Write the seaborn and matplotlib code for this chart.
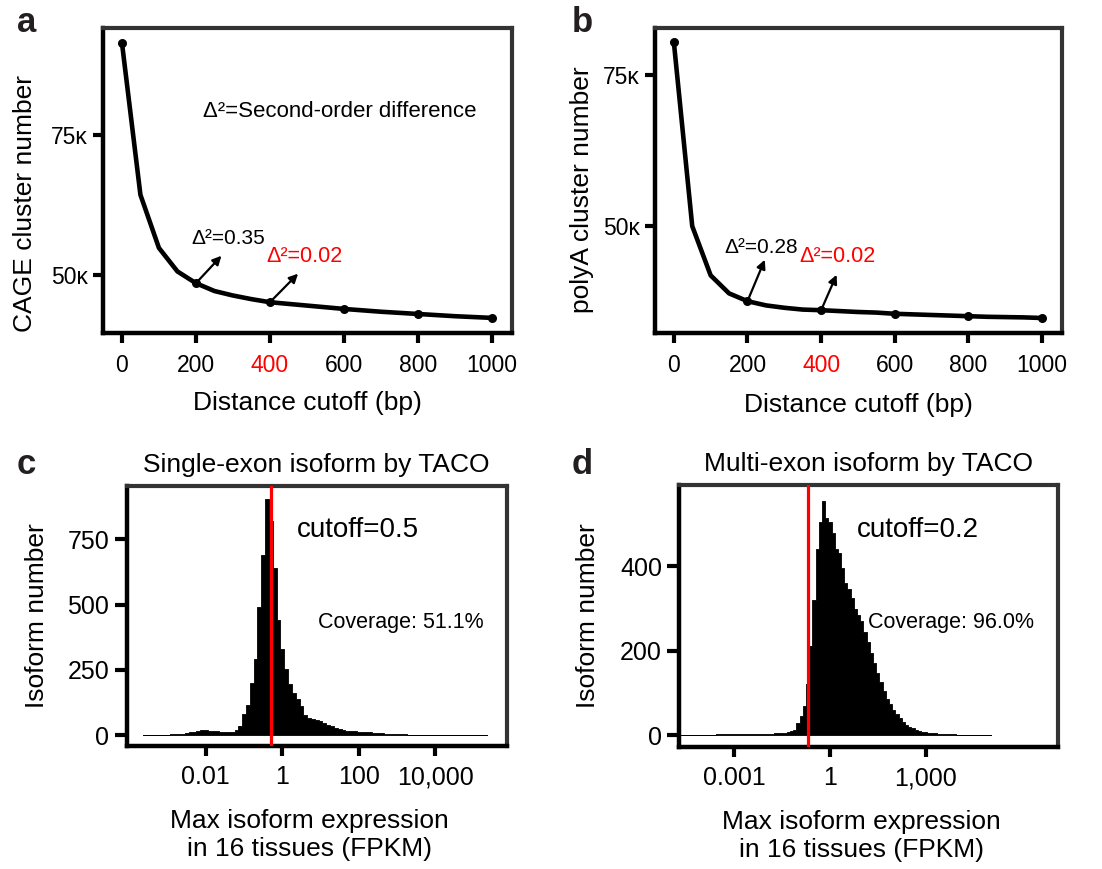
import numpy as np
import pandas as pd
import seaborn as sns
import matplotlib.pyplot as plt
from matplotlib.ticker import NullLocator

# ---- panels a / b : cluster number (thousands) vs distance cutoff ----
distance_bp = [0, 50, 100, 150, 200, 250, 300, 350, 400, 450, 500,
               550, 600, 650, 700, 750, 800, 850, 900, 950, 1000]
cage_k = [91.5, 64.3, 54.8, 50.6, 48.5, 47.1, 46.3, 45.65, 45.1, 44.8, 44.5,
          44.2, 43.9, 43.65, 43.4, 43.2, 43.0, 42.8, 42.6, 42.45, 42.3]
polya_k = [80.6, 49.9, 41.7, 38.7, 37.4, 36.7, 36.3, 36.0, 35.9, 35.75, 35.6,
           35.5, 35.3, 35.2, 35.1, 35.0, 34.9, 34.8, 34.75, 34.7, 34.6]

# ---- panels c / d : histogram heights, 0.1-decade bins of log10(FPKM) ----
single_first_bin = -3.6
single_counts = [1, 1, 1, 1, 1,
                 2, 2, 3, 4, 5,
                 6, 8, 10, 12, 15,
                 18, 18, 17, 15, 14,
                 13, 12, 11, 13, 18,
                 35, 80, 115, 200, 290,
                 490, 690, 905, 820, 640,
                 440, 330, 255, 195, 160,
                 140, 110, 78, 65, 60,
                 57, 54, 48, 40, 34,
                 29, 25, 21, 17, 15,
                 14, 13, 12, 11, 10,
                 9, 8, 7, 6, 5,
                 4, 4, 3, 3, 2,
                 2, 2, 2, 1.5, 1.5,
                 1, 1, 1, 1, 1,
                 1, 1, 1, 1, 1,
                 1, 1, 1, 1, 1]
multi_first_bin = -4.6
multi_counts = [1, 1, 1, 1, 1,
                1, 1, 1, 1, 1,
                1, 1.5, 1.5, 1.5, 1.5,
                2, 2, 2, 2, 2,
                2, 2, 2, 2.5, 2.5,
                2.5, 2.5, 3, 3, 4,
                4, 5, 6, 7, 9,
                13, 28, 45, 70, 120,
                210, 320, 440, 505, 555,
                515, 505, 478, 440, 430,
                395, 360, 345, 325, 298,
                285, 270, 245, 220, 195,
                170, 148, 125, 105, 85,
                73, 60, 50, 40, 32,
                25, 20, 16, 12, 10,
                8, 7, 5.5, 4.5, 4,
                3, 2.5, 2, 2, 1.5,
                1.5, 1, 1, 1, 1,
                1, 1, 1, 1, 1,
                1, 1]
bin_step = 0.1

sns.set_style("white")
plt.rcParams['font.family'] = ['Liberation Sans', 'DejaVu Sans']
plt.rcParams['text.color'] = 'black'
plt.rcParams['axes.labelcolor'] = 'black'
plt.rcParams['xtick.color'] = 'black'
plt.rcParams['ytick.color'] = 'black'

fig = plt.figure(figsize=(11.02, 8.69), dpi=100)
ax_a = fig.add_axes([0.0935, 0.6168, 0.3711, 0.3510])
ax_b = fig.add_axes([0.5944, 0.6168, 0.3693, 0.3510])
ax_c = fig.add_axes([0.1150, 0.1415, 0.3448, 0.2992])
ax_d = fig.add_axes([0.6164, 0.1405, 0.3439, 0.3014])


def style_box(ax, xpad, tick_fs):
    for side in ['left', 'bottom']:
        ax.spines[side].set_linewidth(3.2)
        ax.spines[side].set_color('black')
    for side in ['top', 'right']:
        ax.spines[side].set_linewidth(3.0)
        ax.spines[side].set_color('#333333')
    ax.tick_params(axis='both', which='major', length=7, width=3,
                   direction='out', color='black', labelcolor='black',
                   labelsize=tick_fs, left=True, bottom=True)
    ax.tick_params(axis='x', pad=xpad)
    ax.tick_params(axis='y', pad=4)


def curve_panel(ax, values, ylim, ylabel, ylab_xy, xlab_y):
    df = pd.DataFrame({'bp': distance_bp, 'n': values})
    sns.lineplot(data=df, x='bp', y='n', ax=ax, color='black', lw=3.3,
                 marker='o', markersize=6.5, markevery=4, markeredgewidth=0)
    ax.set_xlim(-51, 1054)
    ax.set_ylim(*ylim)
    ax.set_xticks([0, 200, 400, 600, 800, 1000])
    ax.set_yticks([50, 75])
    ax.set_yticklabels(['50κ', '75κ'])
    style_box(ax, 8, 16.5)
    ax.get_xticklabels()[2].set_color('red')
    ax.set_xlabel('Distance cutoff (bp)', fontsize=19)
    ax.set_ylabel(ylabel, fontsize=19)
    ax.xaxis.set_label_coords(0.5, xlab_y)
    ax.yaxis.set_label_coords(*ylab_xy)


def arrow(ax, start, tip):
    ax.annotate('', xy=tip, xytext=start,
                arrowprops=dict(arrowstyle='-|>', color='black', lw=1.6,
                                mutation_scale=13, shrinkA=0, shrinkB=0))


# panel a
curve_panel(ax_a, cage_k, (39.6, 94.1), 'CAGE cluster number', (-0.161, 0.423), -0.19)
arrow(ax_a, (200, cage_k[4]), (269, 53.4))
arrow(ax_a, (400, cage_k[8]), (476, 50.2))
ax_a.text(188, 56.5, 'Δ²=0.35', fontsize=15, va='center', ha='left')
ax_a.text(391, 53.3, 'Δ²=0.02', fontsize=15.5, va='center', ha='left', color='red')
ax_a.text(219, 79.2, 'Δ²=Second-order difference', fontsize=16, va='center', ha='left')

# panel b
curve_panel(ax_b, polya_k, (32.1, 82.9), 'polyA cluster number', (-0.151, 0.469), -0.197)
arrow(ax_b, (200, polya_k[4]), (247, 44.3))
arrow(ax_b, (400, polya_k[8]), (442, 41.8))
ax_b.text(138, 46.3, 'Δ²=0.28', fontsize=15, va='center', ha='left')
ax_b.text(342, 44.9, 'Δ²=0.02', fontsize=15.5, va='center', ha='left', color='red')


def hist_panel(ax, first_bin, counts, xlim_log, ylim, yticks, xticks, xticklabels,
               cutoff, title, cutoff_xy, coverage, coverage_xy, ylab_x):
    centers = first_bin + bin_step * np.arange(len(counts))
    lo = first_bin - bin_step / 2
    hi = centers[-1] + bin_step / 2
    df = pd.DataFrame({'fpkm': 10 ** centers, 'count': counts})
    sns.histplot(data=df, x='fpkm', weights='count', binwidth=bin_step,
                 binrange=(lo, hi), log_scale=True,
                 element='step', fill=True, color='black', alpha=1, linewidth=0.6,
                 ax=ax)
    ax.axvline(cutoff, color='red', lw=2.3, zorder=5)
    ax.set_xlim(10 ** xlim_log[0], 10 ** xlim_log[1])
    ax.set_ylim(*ylim)
    ax.set_xticks(xticks)
    ax.set_xticklabels(xticklabels)
    ax.xaxis.set_minor_locator(NullLocator())
    ax.set_yticks(yticks)
    style_box(ax, 7, 18)
    ax.tick_params(axis='y', length=8.5)
    ax.set_title(title, fontsize=19, pad=10)
    ax.set_xlabel('Max isoform expression\nin 16 tissues (FPKM)', fontsize=19,
                  linespacing=1.2)
    ax.set_ylabel('Isoform number', fontsize=19)
    ax.xaxis.set_label_coords(0.48, -0.242)
    ax.yaxis.set_label_coords(ylab_x, 0.5)
    ax.text(*cutoff_xy, 'cutoff=%s' % cutoff, transform=ax.transAxes, fontsize=20,
            va='center', ha='left')
    ax.text(*coverage_xy, coverage, transform=ax.transAxes, fontsize=15.5,
            va='center', ha='left')


hist_panel(ax_c, single_first_bin, single_counts, (-4.07, 5.87), (-42, 954),
           [0, 250, 500, 750], [0.01, 1, 100, 10000], ['0.01', '1', '100', '10,000'],
           0.5, 'Single-exon isoform by TACO', (0.449, 0.831),
           'Coverage: 51.1%', (0.5035, 0.474), -0.205)
hist_panel(ax_d, multi_first_bin, multi_counts, (-4.71, 7.14), (-28, 592),
           [0, 200, 400], [0.001, 1, 1000], ['0.001', '1', '1,000'],
           0.2, 'Multi-exon isoform by TACO', (0.468, 0.828),
           'Coverage: 96.0%', (0.499, 0.474), -0.208)

# panel letters
for letter, x, y in [('a', 16.7, 32), ('b', 571.7, 32), ('c', 16.7, 474), ('d', 571.7, 474)]:
    fig.text(x / 1102, 1 - y / 869, letter, fontsize=25, fontweight='bold',
             color='#231f20', ha='left', va='baseline')

fig.savefig('out.png', dpi=100)
